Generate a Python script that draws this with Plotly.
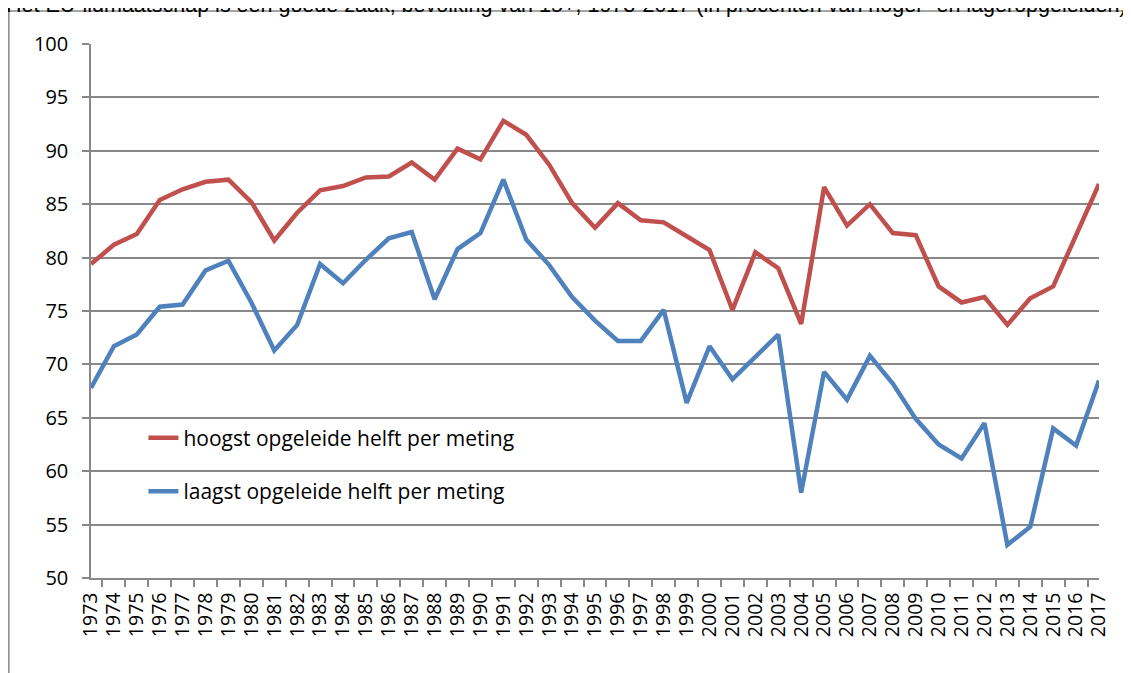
"""
EU-lidmaatschap: hoger- vs lageropgeleiden, 1973-2017.
"""
import plotly.graph_objects as go

years = [str(y) for y in range(1973, 2018)]

hoogst = [
    79.4, 81.2, 82.2, 85.4, 86.4, 87.1, 87.3, 85.2, 81.6, 84.2,
    86.3, 86.7, 87.5, 87.6, 88.9, 87.3, 90.2, 89.2, 92.8, 91.5,
    88.7, 85.1, 82.8, 85.1, 83.5, 83.3, 82.0, 80.7, 75.1, 80.5,
    79.0, 73.8, 86.6, 83.0, 85.0, 82.3, 82.1, 77.3, 75.8, 76.3,
    73.7, 76.2, 77.3, 82.1, 86.9,
]
laagst = [
    67.8, 71.7, 72.8, 75.4, 75.6, 78.8, 79.7, 75.8, 71.3, 73.7,
    79.4, 77.6, 79.8, 81.8, 82.4, 76.1, 80.8, 82.3, 87.3, 81.7,
    79.3, 76.3, 74.1, 72.2, 72.2, 75.1, 66.4, 71.7, 68.6, 70.7,
    72.8, 58.0, 69.3, 66.7, 70.8, 68.2, 64.9, 62.5, 61.2, 64.5,
    53.1, 54.8, 64.0, 62.4, 68.5,
]

title_text = ("Het EU-lidmaatschap is een goede zaak; bevolking van 15+, 1973-2017 "
              "(in procenten van hoger- en lageropgeleiden)")

GRID = "#888888"
FONT = "Open Sans"

fig = go.Figure()
fig.add_trace(go.Scatter(
    x=years, y=hoogst, mode="lines", name="hoogst opgeleide helft per meting",
    line=dict(color="#C0504D", width=4.5), legend="legend",
))
fig.add_trace(go.Scatter(
    x=years, y=laagst, mode="lines", name="laagst opgeleide helft per meting",
    line=dict(color="#4F81BD", width=4.5), legend="legend2",
))

legend_style = dict(
    xanchor="left", yanchor="middle", bgcolor="rgba(0,0,0,0)",
    font=dict(family=FONT, size=21, color="black"),
)
# page body adds an 8px offset, margins compensate for it
fig.update_layout(
    width=1131, height=673, showlegend=True,
    margin=dict(l=83, r=40, t=36, b=103),
    plot_bgcolor="white", paper_bgcolor="white",
    font=dict(family=FONT, color="black"),
    legend=dict(x=0.052, y=0.262, **legend_style),
    legend2=dict(x=0.052, y=0.162, **legend_style),
    xaxis=dict(
        type="category", showgrid=False, showline=True, linecolor=GRID,
        linewidth=1.5, ticks="outside", tickson="boundaries", ticklen=7,
        tickmode="array", tickvals=years, ticktext=years,
        tickcolor=GRID, tickwidth=1.5, tickangle=-90, ticklabelstandoff=5,
        tickfont=dict(family=FONT, size=19.5, color="black"),
    ),
    yaxis=dict(
        range=[50, 100], dtick=5, showgrid=True, gridcolor=GRID, gridwidth=1.5,
        showline=True, linecolor=GRID, linewidth=1.5, ticks="outside",
        ticklen=7, tickcolor=GRID, tickwidth=1.5, zeroline=False,
        ticklabelstandoff=10,
        tickfont=dict(family=FONT, size=20, color="black"),
    ),
)

# outer chart frame (only its left and top edges fall inside the picture)
fig.add_shape(type="line", xref="paper", yref="paper", x0=-0.0815, x1=-0.0815,
              y0=-0.3, y1=1.0619, line=dict(color=GRID, width=1.5))
fig.add_shape(type="line", xref="paper", yref="paper", x0=-0.0815, x1=1.05,
              y0=1.0619, y1=1.0619, line=dict(color=GRID, width=1.5))

fig.add_annotation(
    text=title_text, xref="paper", yref="paper", x=-0.086, y=1.046,
    xanchor="left", yanchor="bottom", showarrow=False,
    font=dict(family="Liberation Sans", size=21.5, color="black"),
)

fig.write_html("out.html")
